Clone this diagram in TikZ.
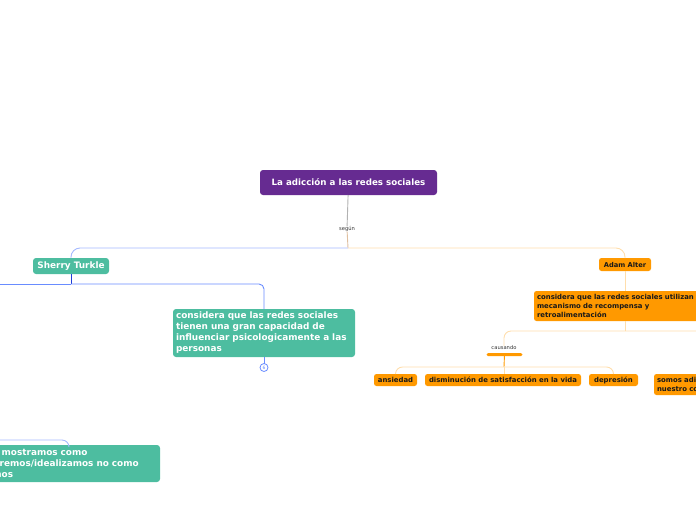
\documentclass[tikz,border=0pt]{standalone}
\usepackage{fontspec}
\setmainfont{DejaVu Sans}
\definecolor{mapPurple}{RGB}{102,43,145}
\definecolor{mapGreen}{RGB}{77,189,160}
\definecolor{mapOrange}{RGB}{255,153,0}
\definecolor{mapPale}{RGB}{255,222,172}
\definecolor{mapSky}{RGB}{165,185,255}
\definecolor{mapBlue}{RGB}{105,140,255}
\definecolor{mapNavy}{RGB}{30,60,215}
\begin{document}
\begin{tikzpicture}[x=1pt,y=-1pt,
  every node/.style={inner sep=0pt, outer sep=0pt},
  root/.style={fill=mapPurple, text=white, rounded corners=3pt, font=\bfseries\fontsize{8.7}{11}\selectfont},
  greenbox/.style={fill=mapGreen, text=white, rounded corners=3pt, font=\bfseries\fontsize{8.9}{11}\selectfont},
  orangebox/.style={fill=mapOrange, text=black!90, rounded corners=2.5pt, font=\bfseries\fontsize{6.9}{8.6}\selectfont},
  para/.style={text width=#1, align=left, inner xsep=3pt},
  tag/.style={text=black!80, font=\fontsize{5.2}{6}\selectfont},
  link/.style={line width=0.9pt}]
\useasboundingbox (0,0) rectangle (696,520);
\clip (0,0) rectangle (696,520);
% main topic
\node[root, minimum width=177, minimum height=25] (title) at (348.5,182.5) {La adicción a las redes sociales};
\node[tag] (segun) at (347,229) {según};
\coordinate (hub) at (348,248);
% left branch
\node[greenbox, minimum width=76, minimum height=16] (sherry) at (71,266) {Sherry Turkle};
\node[greenbox, para=176, minimum height=48] (infl) at (264,333)
  {considera que las redes sociales\\tienen una gran capacidad de\\influenciar psicologicamente a las\\personas};
\node[draw=mapBlue, line width=0.8pt, circle, minimum size=8, text=mapBlue, font=\fontsize{4.5}{5}\selectfont] (fold) at (264,367.5) {6};
\node[greenbox, para=176, minimum height=37] (ideal) at (69,463.5)
  {nos mostramos como\\queremos/idealizamos no como\\somos};
\coordinate (sbus) at (71,284);
\coordinate (offL) at (-40,284);
\coordinate (offB) at (-40,440);
% right branch
\node[orangebox, minimum width=52, minimum height=13, font=\bfseries\fontsize{6.7}{8}\selectfont] (adam) at (625,264.5) {Adam Alter};
\node[orangebox, para=176, minimum height=30] (mecan) at (625,306)
  {considera que las redes sociales utilizan\\mecanismo de recompensa y\\retroalimentación};
\coordinate (mbus) at (625,331);
\node[tag] (causando) at (504,348) {causando};
\node[fill=mapOrange, rounded corners=1.5pt, minimum width=36, minimum height=3] (cbar) at (504.5,354.5) {};
\coordinate (cbus) at (504,367);
\node[orangebox, minimum width=43, minimum height=12] (ansiedad) at (395.5,380) {ansiedad};
\node[orangebox, minimum width=156, minimum height=12] (satis) at (503,380) {disminución de satisfacción en la vida};
\node[orangebox, minimum width=49, minimum height=12] (depre) at (613.5,380) {depresión};
\node[orangebox, para=176, minimum height=21] (somos) at (745,384.5) {somos adi\\nuestro co};
% connectors
\draw[link, black!30] (title) -- (segun);
\draw[link, brown!50] (segun) -- (hub);
\draw[link, mapSky, rounded corners=9pt] (hub) -| (sherry);
\draw[link, mapPale, rounded corners=9pt] (hub) -| (adam);
\draw[link, mapNavy] (sherry) -- (sbus);
\draw[link, mapBlue] (offL) -- (sbus);
\draw[link, mapBlue, rounded corners=5pt] (sbus) -| (infl);
\draw[link, mapBlue] (infl) -- (fold);
\draw[link, mapSky, rounded corners=7pt] (offB) -| (ideal);
\draw[link, mapPale] (adam) -- (mecan);
\draw[link, mapPale] (mecan) -- (mbus);
\draw[link, mapPale, rounded corners=7pt] (mbus) -| (causando);
\draw[link, mapPale, rounded corners=7pt] (mbus) -| (somos);
\draw[link, mapOrange] (cbar) -- (cbus);
\draw[link, mapPale, rounded corners=7pt] (cbus) -| (ansiedad);
\draw[link, mapPale] (cbus) -- (cbus |- satis.north);
\draw[link, mapPale, rounded corners=7pt] (cbus) -| (depre);
\end{tikzpicture}
\end{document}
